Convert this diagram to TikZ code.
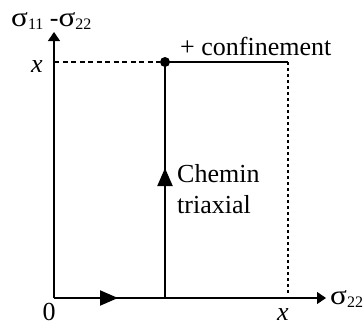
\documentclass[tikz,border=0pt]{standalone}
\usepackage{fontspec}
\usepackage{graphicx}
\setmainfont{Liberation Serif}
\usetikzlibrary{arrows.meta,positioning}
\newcommand{\sigsub}[1]{\scalebox{1.2}[1.05]{σ}\raisebox{-0.3ex}{\fontsize{16}{17}\selectfont #1}}

\begin{document}
\begin{tikzpicture}[x=1pt, y=1pt, font=\fontsize{26}{30}\selectfont,
    axe/.style={line width=1.1pt, -{Triangle[length=9pt,width=12pt]}},
    chemin/.style={line width=2pt},
    fleche/.style={chemin, -{Triangle[length=18pt,width=15pt]}},
    label/.style={inner sep=0pt}]
    \useasboundingbox (0,0) rectangle (363,325);

    % axes
    \coordinate (O) at (54,27);
    \coordinate (Ymax) at (54,293);
    \coordinate (Xmax) at (326,27);
    \draw[axe] (O) -- (Ymax);
    \draw[axe] (O) -- (Xmax);

    \node[label, anchor=base west] (sy) at (11,299) {\sigsub{11} -\sigsub{22}};
    \node[label, anchor=base west] (sx) at (330,21) {\sigsub{22}};
    \node[label, anchor=base] (zero) at (49,5) {0};
    \node[label, anchor=base] (xb) at (283,5) {\itshape x};
    \node[label, anchor=base] (xl) at (37,253) {\itshape x};

    % chemin triaxial
    \coordinate (A) at (165,27);
    \coordinate (Ym) at (54,263);
    \coordinate (Q) at (288,263);
    \coordinate (R) at (288,31);
    \coordinate (m1) at (118,27);
    \coordinate (m2) at (165,157);
    \node[circle, fill, inner sep=0pt, minimum size=10pt] (P) at (165,263) {};

    \draw[chemin] (O) -- (A) -- (P.center) -- (Q);
    \draw[fleche] (O) -- (m1);
    \draw[fleche] (A) -- (m2);
    \draw[line width=1.1pt, dash pattern=on 5pt off 3.5pt] (Ym) -- (P);
    \draw[line width=1.6pt, dash pattern=on 3pt off 3pt] (Q) -- (R);

    \node[label, anchor=base west] (conf) at (180,270) {+ confinement};
    \node[label, anchor=base west] (ch) at (177,143) {Chemin};
    \node[label, anchor=base west] (tri) at (177,112) {triaxial};
\end{tikzpicture}
\end{document}
